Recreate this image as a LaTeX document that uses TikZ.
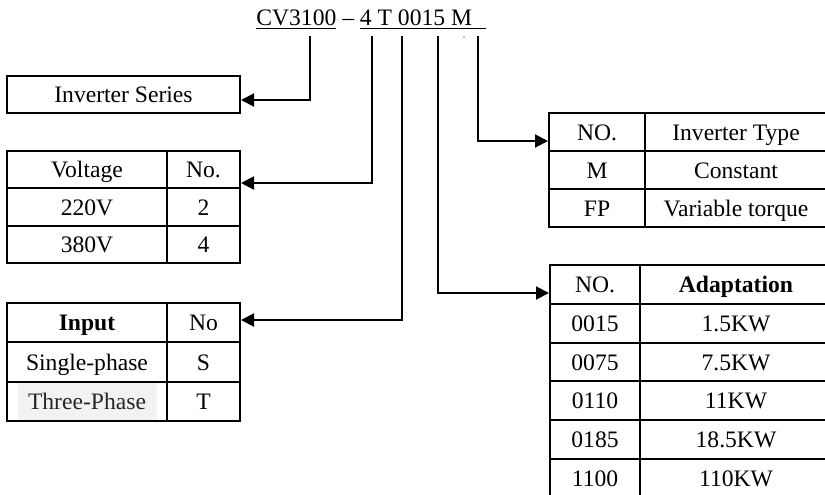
\documentclass[tikz,border=0pt]{standalone}
\usepackage{fontspec}
\setmainfont{Liberation Serif}
\usetikzlibrary{arrows.meta}

\tikzset{
  cell/.style={draw, line width=1pt, inner sep=0pt, align=center,
    text height=0.8em, text depth=0pt},
  conn/.style={line width=1pt, -{Triangle[length=6.5pt,width=6.5pt]}},
}
\definecolor{phasegray}{RGB}{242,242,242}

\begin{document}
\begin{tikzpicture}[x=0.5pt, y=-0.5pt, font=\fontsize{11.8}{14}\selectfont]
    \useasboundingbox (0,0) rectangle (825,494);
    \clip (0,0) rectangle (825,494);

    % model code
    \node[anchor=base west, inner sep=0pt] (code) at (256,25)
      {\underline{CV3100} -- \underline{4 T 0015 M\hspace{7pt}}};
    \fill (464,37) circle (0.6);
    \coordinate (s1) at (310,36);
    \coordinate (s2) at (372,36);
    \coordinate (s3) at (402,36);
    \coordinate (s4) at (438,36);
    \coordinate (s5) at (478,36);

    % series
    \node[cell, minimum width=116.5pt, minimum height=18.5pt] (series)
      at (123.5,94.5) {Inverter Series};

    % voltage table
    \foreach \a/\b [count=\i] in {Voltage/No., 220V/2, 380V/4}
    {\node[cell, minimum width=80pt, minimum height=18.67pt] (volt-\i-a)
       at (87, {151+37.33*(\i-0.5)}) {\a};
     \node[cell, minimum width=36.5pt, minimum height=18.67pt] (volt-\i-b)
       at (203.5, {151+37.33*(\i-0.5)}) {\b};
    }

    % input table
    \fill[phasegray] (18,383) rectangle (157,420);
    \foreach \a/\b [count=\i] in {\textbf{Input}/No, Single-phase/S,
      \textcolor{black!85}{Three-Phase}/T}
    {\node[cell, minimum width=80pt, minimum height=19.67pt] (in-\i-a)
       at (87, {303+39.33*(\i-0.5)}) {\a};
     \node[cell, minimum width=36.5pt, minimum height=19.67pt] (in-\i-b)
       at (203.5, {303+39.33*(\i-0.5)}) {\b};
    }

    % inverter type table
    \foreach \a/\b [count=\i] in {NO./Inverter Type, M/Constant,
      FP/Variable torque}
    {\node[cell, minimum width=48pt, minimum height=19pt] (type-\i-a)
       at (597, {113+38*(\i-0.5)}) {\a};
     \node[cell, minimum width=91pt, minimum height=19pt] (type-\i-b)
       at (736, {113+38*(\i-0.5)}) {\b};
    }

    % power table
    \foreach \a/\b [count=\i] in {NO./\textbf{Adaptation}, 0015/1.5KW,
      0075/7.5KW, 0110/11KW, 0185/18.5KW, 1100/110KW}
    {\node[cell, minimum width=45pt, minimum height=19.4pt] (kw-\i-a)
       at (595, {265+38.8*(\i-0.5)}) {\a};
     \node[cell, minimum width=96pt, minimum height=19.4pt] (kw-\i-b)
       at (736, {265+38.8*(\i-0.5)}) {\b};
    }

    % connectors
    \coordinate (b1) at (310,100);
    \coordinate (b2) at (372,183);
    \coordinate (b3) at (402,320);
    \coordinate (b4) at (438,293);
    \coordinate (b5) at (478,141);
    \draw[conn] (s1) -- (b1) -- (b1 -| series.east);
    \draw[conn] (s2) -- (b2) -- (b2 -| volt-1-b.east);
    \draw[conn] (s3) -- (b3) -- (b3 -| in-1-b.east);
    \draw[conn] (s4) -- (b4) -- (b4 -| kw-1-a.west);
    \draw[conn] (s5) -- (b5) -- (b5 -| type-1-a.west);
\end{tikzpicture}
\end{document}
